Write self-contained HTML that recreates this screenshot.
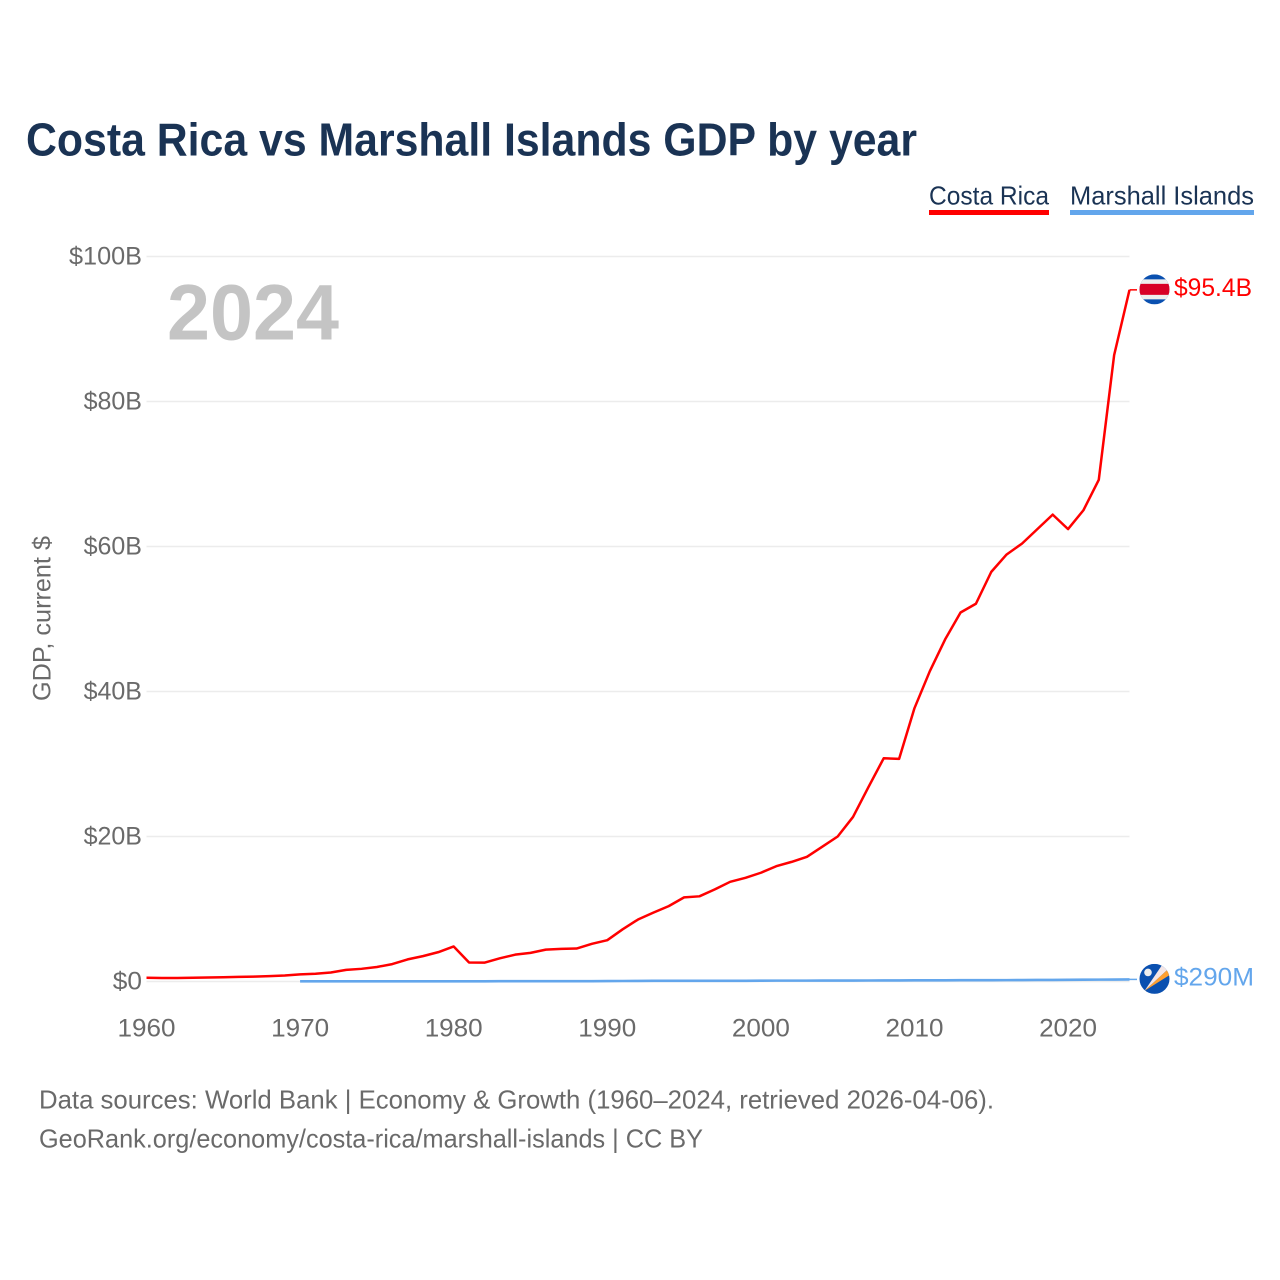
<!DOCTYPE html>
<html lang="en">
<head>
<meta charset="utf-8">
<title>Costa Rica vs Marshall Islands GDP by year</title>
<style>
html,body{margin:0;padding:0;background:#fff;}
svg{display:block;font-family:"Liberation Sans",sans-serif;}
</style>
</head>
<body>
<svg id="chart" width="1280" height="1280" viewBox="0 0 1280 1280" xmlns="http://www.w3.org/2000/svg">
  <rect width="1280" height="1280" fill="#ffffff"/>
  <text x="26" y="155.5" font-size="46" font-weight="700" fill="#1a3354" textLength="891" lengthAdjust="spacingAndGlyphs">Costa Rica vs Marshall Islands GDP by year</text>

  <g>
    <text x="929" y="204.5" font-size="26" fill="#1a3354" textLength="120" lengthAdjust="spacingAndGlyphs">Costa Rica</text>
    <rect x="929" y="210" width="120" height="5" fill="#ff0000"/>
  </g>
  <g>
    <text x="1070" y="204.5" font-size="26" fill="#1a3354" textLength="184" lengthAdjust="spacingAndGlyphs">Marshall Islands</text>
    <rect x="1070" y="210" width="184" height="5" fill="#63a6ec"/>
  </g>

  <g id="grid"></g>
  <g id="yticks"></g>
  <g id="xticks"></g>

  <text transform="translate(50.5,618.5) rotate(-90)" text-anchor="middle" font-size="25" fill="#6a6a6a" textLength="165" lengthAdjust="spacingAndGlyphs">GDP, current $</text>
  <text x="167" y="339.5" font-size="79" font-weight="700" fill="#c4c4c4" textLength="172" lengthAdjust="spacingAndGlyphs">2024</text>

  <path id="line-mi" fill="none" stroke="#63a6ec" stroke-width="2.6" stroke-linejoin="round"/>
  <path id="line-cr" fill="none" stroke="#ff0000" stroke-width="2.5" stroke-linejoin="round"/>
  <line id="conn-cr" stroke="#ff0000" stroke-width="1.5"/>
  <line id="conn-mi" stroke="#63a6ec" stroke-width="1.5"/>

  <defs>
    <clipPath id="clip-cr"><circle cx="0" cy="0" r="15"/></clipPath>
    <clipPath id="clip-mi"><circle cx="0" cy="0" r="15"/></clipPath>
  </defs>
  <g id="flag-cr">
    <g clip-path="url(#clip-cr)">
      <rect x="-15" y="-15" width="30" height="30" fill="#0a50b0"/>
      <rect x="-15" y="-10" width="30" height="20" fill="#eeeeee"/>
      <rect x="-15" y="-5.5" width="30" height="11" fill="#d80027"/>
    </g>
  </g>
  <g id="flag-mi">
    <g clip-path="url(#clip-mi)">
      <rect x="-15" y="-15" width="30" height="30" fill="#0a50b0"/>
      <polygon points="-10,12 15,-11 9,-16" fill="#f4e6e6"/>
      <polygon points="-10,12 15,-11 17,-5" fill="#ffa030"/>
      <circle cx="-6.500" cy="-6.500" r="3.800" fill="#eeeeee"/>
    </g>
  </g>
  <text id="label-cr" x="1174" font-size="25" fill="#ff0000" textLength="78" lengthAdjust="spacingAndGlyphs"></text>
  <text id="label-mi" x="1174" font-size="25" fill="#63a6ec" textLength="80" lengthAdjust="spacingAndGlyphs"></text>

  <text x="39" y="1108.5" font-size="26" fill="#6a6a6a" textLength="955" lengthAdjust="spacingAndGlyphs">Data sources: World Bank | Economy &amp; Growth (1960–2024, retrieved 2026-04-06).</text>
  <text x="39" y="1147.5" font-size="26" fill="#6a6a6a" textLength="664" lengthAdjust="spacingAndGlyphs">GeoRank.org/economy/costa-rica/marshall-islands | CC BY</text>
</svg>
<script>
const years = [1960,1961,1962,1963,1964,1965,1966,1967,1968,1969,1970,1971,1972,1973,1974,1975,1976,1977,1978,1979,1980,1981,1982,1983,1984,1985,1986,1987,1988,1989,1990,1991,1992,1993,1994,1995,1996,1997,1998,1999,2000,2001,2002,2003,2004,2005,2006,2007,2008,2009,2010,2011,2012,2013,2014,2015,2016,2017,2018,2019,2020,2021,2022,2023,2024];
const costaRicaGdp = [0.51,0.48,0.49,0.51,0.56,0.59,0.64,0.68,0.74,0.83,0.98,1.07,1.24,1.6,1.75,2.0,2.4,3.05,3.5,4.05,4.83,2.62,2.6,3.2,3.7,3.95,4.4,4.5,4.55,5.2,5.7,7.2,8.55,9.5,10.4,11.6,11.75,12.7,13.75,14.3,15.0,15.9,16.5,17.2,18.6,20.0,22.7,26.8,30.8,30.7,37.7,42.8,47.2,50.9,52.1,56.5,58.9,60.4,62.4,64.4,62.4,65.0,69.2,86.4,95.4];
const marshallGdp = [null,null,null,null,null,null,null,null,null,null,0.03,0.03,0.03,0.03,0.03,0.03,0.03,0.03,0.03,0.03,0.03,0.03,0.03,0.04,0.04,0.04,0.05,0.05,0.05,0.05,0.06,0.07,0.08,0.09,0.09,0.1,0.1,0.1,0.1,0.1,0.11,0.12,0.12,0.12,0.13,0.13,0.13,0.14,0.15,0.15,0.16,0.17,0.17,0.18,0.18,0.18,0.19,0.2,0.21,0.22,0.23,0.25,0.26,0.27,0.29];
const yTickValues = [0,20,40,60,80,100];
const yTickLabels = ["$0","$20B","$40B","$60B","$80B","$100B"];
const xTickValues = [1960,1970,1980,1990,2000,2010,2020];
const endLabelCostaRica = "$95.4B";
const endLabelMarshall = "$290M";

const NS = "http://www.w3.org/2000/svg";
const X0 = 146.5, X1 = 1129.5, Y0 = 981.5, Y100 = 256.5;
function xScale(year) { return X0 + (year - 1960) * (X1 - X0) / 64; }
function yScale(v) { return Y0 - v * (Y0 - Y100) / 100; }
function linePath(values) {
  let d = "";
  values.forEach(function (v, i) {
    if (v === null) return;
    d += (d ? "L" : "M") + xScale(years[i]).toFixed(2) + " " + yScale(v).toFixed(2);
  });
  return d;
}
function lastValue(values) { return values[values.length - 1]; }

const grid = document.getElementById("grid");
const yticks = document.getElementById("yticks");
const xticks = document.getElementById("xticks");

yTickValues.forEach(function (v, i) {
  const gl = document.createElementNS(NS, "line");
  
  
  gl.setAttribute("x1", X0);
  gl.setAttribute("x2", X1);
  gl.setAttribute("y1", yScale(v));
  gl.setAttribute("y2", yScale(v));
  gl.setAttribute("stroke", "#ececec");
  gl.setAttribute("stroke-width", "1.5");
  grid.appendChild(gl);

  const t = document.createElementNS(NS, "text");
  
  
  t.setAttribute("x", 142);
  t.setAttribute("y", yScale(v) + 8);
  t.setAttribute("text-anchor", "end");
  t.setAttribute("font-size", "25");
  t.setAttribute("fill", "#6a6a6a");
  t.setAttribute("textLength", (yTickLabels[i].length * 14.6).toFixed(1));
  t.setAttribute("lengthAdjust", "spacingAndGlyphs");
  t.textContent = yTickLabels[i];
  yticks.appendChild(t);
});

xTickValues.forEach(function (y) {
  const t = document.createElementNS(NS, "text");
  
  
  t.setAttribute("x", xScale(y));
  t.setAttribute("y", 1036.5);
  t.setAttribute("text-anchor", "middle");
  t.setAttribute("font-size", "25");
  t.setAttribute("fill", "#6a6a6a");
  t.setAttribute("textLength", "58");
  t.setAttribute("lengthAdjust", "spacingAndGlyphs");
  t.textContent = y;
  xticks.appendChild(t);
});

document.getElementById("line-cr").setAttribute("d", linePath(costaRicaGdp));
document.getElementById("line-mi").setAttribute("d", linePath(marshallGdp));

const crEnd = yScale(lastValue(costaRicaGdp));
const miEnd = yScale(lastValue(marshallGdp));
const connCr = document.getElementById("conn-cr");
connCr.setAttribute("x1", X1);
connCr.setAttribute("x2", 1137);
connCr.setAttribute("y1", crEnd);
connCr.setAttribute("y2", crEnd);
const connMi = document.getElementById("conn-mi");
connMi.setAttribute("x1", X1);
connMi.setAttribute("x2", 1137);
connMi.setAttribute("y1", miEnd);
connMi.setAttribute("y2", miEnd);
document.getElementById("flag-cr").setAttribute("transform", "translate(1154.5," + (crEnd - 0.5) + ")");
document.getElementById("flag-mi").setAttribute("transform", "translate(1154.5," + (miEnd - 0.5) + ")");
const labelCr = document.getElementById("label-cr");
labelCr.setAttribute("y", crEnd + 6);
labelCr.textContent = endLabelCostaRica;
const labelMi = document.getElementById("label-mi");
labelMi.setAttribute("y", miEnd + 6);
labelMi.textContent = endLabelMarshall;
</script>
</body>
</html>
